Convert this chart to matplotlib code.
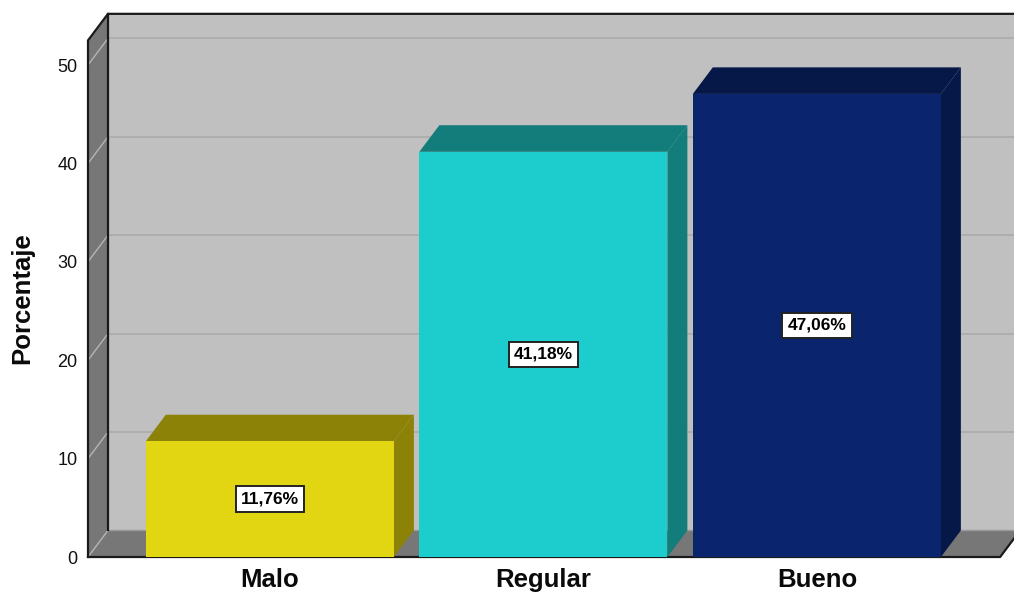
import matplotlib
matplotlib.use("Agg")
import matplotlib.pyplot as plt
from matplotlib.patches import Polygon, Rectangle

plt.rcParams['font.family'] = ['Liberation Sans', 'DejaVu Sans']

# Data
categories = ["Malo", "Regular", "Bueno"]
percentages = [11.76, 41.18, 47.06]
yticks = [0, 10, 20, 30, 40, 50]

# Colours per bar: front face, side/top face
front_colors = ["#E2D511", "#1DCDCD", "#0A256E"]
side_colors = ["#8C8208", "#127D7A", "#061848"]

# 3D box layout (data units)
BAR_W = 0.907
DX, DY = 0.073, 2.7          # depth offset
X_LEFT, X_RIGHT = -0.665, 2.67
Y_TOP = 52.5

W, H = 1014, 598
fig = plt.figure(figsize=(W / 100, H / 100), dpi=100)
fig.patch.set_facecolor("white")
ax = fig.add_axes([88 / W, 41 / H, (W - 88) / W, 557 / H])
ax.set_xlim(X_LEFT, X_LEFT + (W - 88) / 273.5)
ax.set_ylim(0, 557 / 9.84)
ax.patch.set_visible(False)
for s in ax.spines.values():
    s.set_visible(False)

wall = "#C0C0C0"
dark = "#777777"
grid = "#ABABAB"

# back wall
ax.add_patch(Polygon([(X_LEFT + DX, DY), (X_RIGHT + DX, DY), (X_RIGHT + DX, Y_TOP + DY),
                      (X_LEFT + DX, Y_TOP + DY)], closed=True, facecolor=wall,
                     edgecolor="none", clip_on=False, zorder=1))
# floor
ax.add_patch(Polygon([(X_LEFT, 0), (X_RIGHT, 0), (X_RIGHT + DX, DY), (X_LEFT + DX, DY)],
                     closed=True, facecolor=dark, edgecolor="none", clip_on=False, zorder=1))
# left wall
ax.add_patch(Polygon([(X_LEFT, 0), (X_LEFT, Y_TOP), (X_LEFT + DX, Y_TOP + DY), (X_LEFT + DX, DY)],
                     closed=True, facecolor=dark, edgecolor="none", clip_on=False, zorder=1))

# grid lines on back wall and left wall
for t in yticks[1:]:
    ax.plot([X_LEFT + DX, X_RIGHT + DX], [t + DY, t + DY], color=grid, lw=1.2,
            clip_on=False, zorder=2)
    ax.plot([X_LEFT, X_LEFT + DX], [t, t + DY], color="#B5B5B5", lw=1.0,
            clip_on=False, zorder=2)
# floor back edge and inner diagonal
ax.plot([X_LEFT + DX, X_RIGHT + DX], [DY, DY], color="#9A9A9A", lw=1.0, clip_on=False, zorder=2)
ax.plot([X_LEFT, X_LEFT + DX], [0, DY], color="#B5B5B5", lw=1.0, clip_on=False, zorder=2)

# black outlines
ax.plot([X_LEFT, X_LEFT, X_LEFT + DX, X_RIGHT + DX], [0, Y_TOP, Y_TOP + DY, Y_TOP + DY],
        color="#1A1A1A", lw=1.6, clip_on=False, zorder=3, solid_joinstyle="miter")
ax.plot([X_LEFT + DX, X_LEFT + DX], [DY, Y_TOP + DY], color="#1A1A1A", lw=1.6,
        clip_on=False, zorder=3)
ax.plot([X_LEFT, X_RIGHT, X_RIGHT + DX], [0, 0, DY], color="#1A1A1A", lw=1.6,
        clip_on=False, zorder=3)

# 3D bars
for i, (v, fc, sc) in enumerate(zip(percentages, front_colors, side_colors)):
    x0, x1 = i - BAR_W / 2, i + BAR_W / 2
    ax.add_patch(Polygon([(x1, 0), (x1 + DX, DY), (x1 + DX, v + DY), (x1, v)], closed=True,
                         facecolor=sc, edgecolor="none", clip_on=False, zorder=4))
    ax.add_patch(Polygon([(x0, v), (x1, v), (x1 + DX, v + DY), (x0 + DX, v + DY)], closed=True,
                         facecolor=sc, edgecolor="none", clip_on=False, zorder=4))
    ax.add_patch(Rectangle((x0, 0), BAR_W, v, facecolor=fc, edgecolor="none",
                           clip_on=False, zorder=5))
    label = f"{v:.2f}%".replace(".", ",")
    ax.text(i, v / 2, label, ha="center", va="center", fontsize=12.5, fontweight="bold",
            color="black", zorder=6,
            bbox=dict(boxstyle="square,pad=0.3", facecolor="white", edgecolor="#222222", lw=1.4))

# axes ticks and labels
ax.set_yticks(yticks)
ax.set_yticklabels([str(t) for t in yticks])
ax.tick_params(axis="y", length=0, pad=7.5, labelsize=13, labelcolor="#111111")
ax.set_xticks(range(len(categories)))
ax.set_xticklabels(categories, fontweight="bold")
ax.tick_params(axis="x", length=0, pad=8, labelsize=18.5, labelcolor="#0A0A0A")

fig.text(22 / W, 1 - 298 / H, "Porcentaje", rotation=90, ha="center", va="center",
         fontsize=18.5, fontweight="bold", color="#0A0A0A")

fig.savefig("out.png", dpi=100, facecolor="white")
